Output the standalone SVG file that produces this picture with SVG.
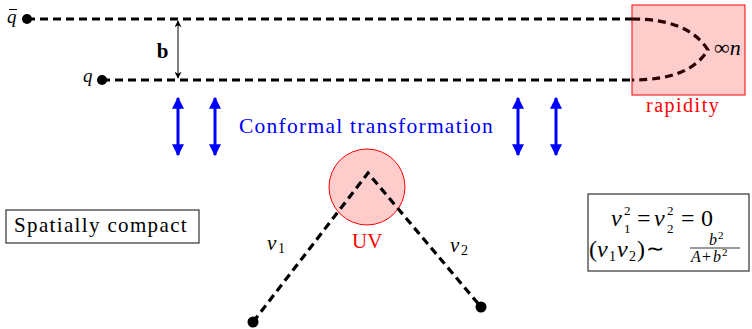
<svg xmlns="http://www.w3.org/2000/svg" width="752" height="329" viewBox="0 0 752 329">
<defs>
<marker id="ba" viewBox="0 0 10 10" refX="9" refY="5" markerWidth="4" markerHeight="4.5" orient="auto-start-reverse" markerUnits="strokeWidth"><path d="M0,0 L10,5 L0,10 z" fill="#0000ff"/></marker>
<marker id="ka" viewBox="0 0 10 10" refX="9" refY="5" markerWidth="8" markerHeight="7" orient="auto-start-reverse" markerUnits="strokeWidth"><path d="M0,0 L10,5 L0,10 L3,5 z" fill="#000"/></marker>
</defs>
<g id="rapidity">
<rect x="632" y="5" width="113" height="90" fill="#ffcccc" stroke="#ff0000" stroke-width="1"/>
<text x="646" y="112" font-family="Liberation Serif" font-size="20" letter-spacing="1.5" fill="#ff0000">rapidity</text>
</g>
<g id="uv">
<circle cx="367" cy="187" r="38" fill="#ffcccc" stroke="#ff0000" stroke-width="1"/>
<text x="352" y="248" font-family="Liberation Serif" font-size="21" fill="#ff0000">UV</text>
</g>
<g id="connectors" fill="none" stroke-width="3.2" stroke-dasharray="8,5">
<path stroke="#000" d="M27,19 H632"/>
<path stroke="#000" d="M102,80 H632"/>
<path stroke="#2a0000" d="M632,19 C668,19 694,28 708,50 C694,72 668,80 632,80"/>
<path stroke="#000" d="M253,322 L368,173 L481,307"/>
<line x1="178" y1="21" x2="178" y2="78" stroke="#000" stroke-width="1" stroke-dasharray="none" marker-start="url(#ka)" marker-end="url(#ka)"/>
<g stroke="#0000ff" stroke-width="3" stroke-dasharray="none">
<line x1="178" y1="98" x2="178" y2="155" marker-start="url(#ba)" marker-end="url(#ba)"/>
<line x1="215" y1="98" x2="215" y2="155" marker-start="url(#ba)" marker-end="url(#ba)"/>
<line x1="518" y1="98" x2="518" y2="155" marker-start="url(#ba)" marker-end="url(#ba)"/>
<line x1="556" y1="98" x2="556" y2="155" marker-start="url(#ba)" marker-end="url(#ba)"/>
</g>
</g>
<g id="qbar">
<circle cx="27" cy="19" r="5"/>
<text x="7" y="23" font-family="Liberation Serif" font-style="italic" font-size="19">q</text>
<line x1="9" y1="9.5" x2="17" y2="9.5" stroke="#000" stroke-width="1"/>
</g>
<g id="q">
<circle cx="102" cy="80" r="5"/>
<text x="83" y="82" font-family="Liberation Serif" font-style="italic" font-size="19">q</text>
</g>
<g id="b-label"><text x="162.5" y="57.5" font-family="Liberation Serif" font-size="21" font-weight="bold" text-anchor="middle">b</text></g>
<g id="infn"><text x="714" y="55" font-family="Liberation Serif" font-size="22">∞<tspan font-style="italic">n</tspan></text></g>
<g id="conformal"><text x="239" y="133" font-family="Liberation Serif" font-size="21.5" letter-spacing="1.25" fill="#0000ff">Conformal transformation</text></g>
<g id="v-dots">
<circle cx="253" cy="322" r="5.5"/>
<circle cx="481" cy="307" r="5.5"/>
<text x="267" y="250" font-family="Liberation Serif" font-style="italic" font-size="21">v</text>
<text x="278" y="253" font-family="Liberation Serif" font-size="14">1</text>
<text x="450" y="252" font-family="Liberation Serif" font-style="italic" font-size="21">v</text>
<text x="461" y="255" font-family="Liberation Serif" font-size="14">2</text>
</g>
<g id="spatially">
<rect x="6" y="210" width="193" height="33" fill="#fff" stroke="#333" stroke-width="1.2"/>
<text x="14" y="232" font-family="Liberation Serif" font-size="21" letter-spacing="1.35">Spatially compact</text>
</g>
<g id="formula">
<rect x="588" y="194" width="161" height="77" fill="#fff" stroke="#333" stroke-width="1.2"/>
<text x="611" y="226" font-family="Liberation Serif" font-style="italic" font-size="24">v</text>
<text x="624" y="215" font-family="Liberation Serif" font-size="13">2</text>
<text x="624" y="233" font-family="Liberation Serif" font-size="13">1</text>
<text x="637" y="226" font-family="Liberation Serif" font-size="24">=</text>
<text x="654" y="226" font-family="Liberation Serif" font-style="italic" font-size="24">v</text>
<text x="667" y="215" font-family="Liberation Serif" font-size="13">2</text>
<text x="667" y="233" font-family="Liberation Serif" font-size="13">2</text>
<text x="681" y="226" font-family="Liberation Serif" font-size="24">=</text>
<text x="701" y="226" font-family="Liberation Serif" font-size="24">0</text>
<text x="589" y="257" font-family="Liberation Serif" font-size="24">(</text>
<text x="597" y="257" font-family="Liberation Serif" font-style="italic" font-size="24">v</text>
<text x="609" y="261" font-family="Liberation Serif" font-size="14">1</text>
<text x="617" y="257" font-family="Liberation Serif" font-style="italic" font-size="24">v</text>
<text x="629" y="261" font-family="Liberation Serif" font-size="14">2</text>
<text x="637" y="257" font-family="Liberation Serif" font-size="24">)</text>
<text x="646" y="256" font-family="Liberation Serif" font-size="22">∼</text>
<text x="709" y="245" font-family="Liberation Serif" font-style="italic" font-size="16">b</text>
<text x="718" y="239" font-family="Liberation Serif" font-size="11">2</text>
<line x1="690" y1="248" x2="740" y2="248" stroke="#000" stroke-width="0.8"/>
<text x="691" y="262" font-family="Liberation Serif" font-style="italic" font-size="16">A</text>
<text x="702" y="262" font-family="Liberation Serif" font-size="16">+</text>
<text x="713" y="262" font-family="Liberation Serif" font-style="italic" font-size="16">b</text>
<text x="722" y="256" font-family="Liberation Serif" font-size="11">2</text>
</g>
</svg>
